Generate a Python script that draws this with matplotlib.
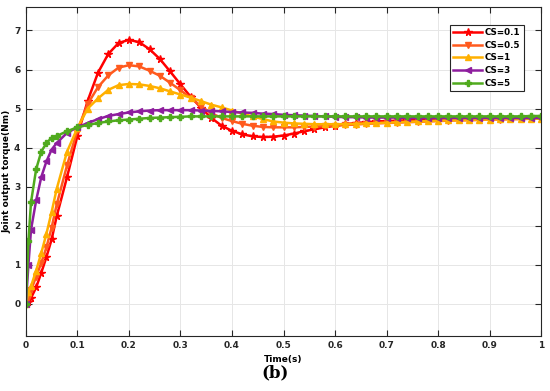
import matplotlib
matplotlib.use("Agg")
import matplotlib.pyplot as plt

time = [0, 0.005, 0.01, 0.02, 0.03, 0.04, 0.05, 0.06, 0.08, 0.10, 0.12, 0.14, 0.16, 0.18,
        0.20, 0.22, 0.24, 0.26, 0.28, 0.30, 0.32, 0.34, 0.36, 0.38, 0.40, 0.42, 0.44, 0.46,
        0.48, 0.50, 0.52, 0.54, 0.56, 0.58, 0.60, 0.62, 0.64, 0.66, 0.68, 0.70, 0.72, 0.74,
        0.76, 0.78, 0.80, 0.82, 0.84, 0.86, 0.88, 0.90, 0.92, 0.94, 0.96, 0.98, 1.00]

cs_01 = [0, 0.05, 0.15, 0.42, 0.80, 1.20, 1.65, 2.25, 3.25, 4.30, 5.20, 5.92, 6.40, 6.68,
         6.76, 6.70, 6.52, 6.27, 5.95, 5.62, 5.30, 5.02, 4.76, 4.56, 4.43, 4.34, 4.29, 4.27,
         4.28, 4.31, 4.36, 4.42, 4.47, 4.52, 4.56, 4.60, 4.63, 4.65, 4.67, 4.68, 4.69, 4.70,
         4.71, 4.72, 4.72, 4.73, 4.73, 4.74, 4.74, 4.74, 4.75, 4.75, 4.75, 4.75, 4.75]
cs_05 = [0, 0.15, 0.35, 0.70, 1.05, 1.45, 1.95, 2.55, 3.55, 4.45, 5.12, 5.55, 5.85, 6.05,
         6.11, 6.08, 5.97, 5.84, 5.66, 5.47, 5.27, 5.06, 4.88, 4.76, 4.68, 4.61, 4.56, 4.53,
         4.52, 4.52, 4.52, 4.53, 4.54, 4.55, 4.56, 4.58, 4.59, 4.61, 4.62, 4.63, 4.64, 4.65,
         4.66, 4.67, 4.68, 4.69, 4.70, 4.70, 4.71, 4.72, 4.72, 4.73, 4.73, 4.74, 4.74]
cs_1 = [0, 0.30, 0.45, 0.85, 1.30, 1.80, 2.35, 2.95, 3.90, 4.50, 5.00, 5.26, 5.48, 5.60,
        5.63, 5.62, 5.58, 5.52, 5.44, 5.36, 5.28, 5.19, 5.10, 5.03, 4.95, 4.87, 4.80, 4.73,
        4.67, 4.64, 4.62, 4.61, 4.60, 4.60, 4.60, 4.60, 4.61, 4.62, 4.63, 4.64, 4.65, 4.66,
        4.67, 4.68, 4.69, 4.70, 4.70, 4.71, 4.72, 4.72, 4.73, 4.73, 4.74, 4.74, 4.74]
cs_3 = [0, 1.00, 1.90, 2.65, 3.25, 3.65, 3.95, 4.12, 4.38, 4.52, 4.63, 4.73, 4.81, 4.86,
        4.90, 4.93, 4.95, 4.96, 4.96, 4.96, 4.96, 4.95, 4.94, 4.93, 4.91, 4.90, 4.89, 4.87,
        4.86, 4.84, 4.83, 4.82, 4.81, 4.80, 4.79, 4.78, 4.78, 4.77, 4.77, 4.77, 4.77, 4.76,
        4.76, 4.76, 4.76, 4.76, 4.76, 4.76, 4.76, 4.76, 4.76, 4.76, 4.76, 4.76, 4.76]
cs_5 = [0, 1.60, 2.60, 3.45, 3.90, 4.12, 4.25, 4.30, 4.42, 4.52, 4.58, 4.63, 4.67, 4.70,
        4.72, 4.74, 4.76, 4.77, 4.78, 4.79, 4.80, 4.80, 4.80, 4.80, 4.80, 4.80, 4.80, 4.80,
        4.80, 4.80, 4.80, 4.80, 4.80, 4.80, 4.80, 4.80, 4.80, 4.80, 4.80, 4.80, 4.80, 4.80,
        4.80, 4.80, 4.80, 4.80, 4.80, 4.80, 4.80, 4.80, 4.80, 4.80, 4.80, 4.81, 4.81]

labels = ["CS=0.1", "CS=0.5", "CS=1", "CS=3", "CS=5"]
series = [cs_01, cs_05, cs_1, cs_3, cs_5]
colors = ["#FF0000", "#FF5A1E", "#FFB000", "#8E1E9E", "#50AA1E"]
markers = ["*", "v", "^", "<", "P"]
msizes = [5.5, 4, 4, 4, 4.5]

fig = plt.figure(figsize=(5.5, 3.91), dpi=100)
ax = fig.add_axes([0.047, 0.141, 0.937, 0.841])

for y, lab, c, m, ms in zip(series, labels, colors, markers, msizes):
    ax.plot(time, y, color=c, lw=1.8, marker=m, ms=ms, label=lab)

ax.set_xlim(0, 1)
ax.set_ylim(-0.82, 7.6)
ax.set_xticks([0, 0.1, 0.2, 0.3, 0.4, 0.5, 0.6, 0.7, 0.8, 0.9, 1])
ax.set_xticklabels(["0", "0.1", "0.2", "0.3", "0.4", "0.5", "0.6", "0.7", "0.8", "0.9", "1"])
ax.set_yticks(range(0, 8))
ax.grid(True, color="#e6e6e6", lw=0.7)
ax.set_axisbelow(True)
ax.tick_params(direction="in", top=True, right=True, length=4, width=0.8,
               labelsize=6.5, colors="#262626", pad=4)
for lbl in ax.get_xticklabels() + ax.get_yticklabels():
    lbl.set_fontweight("bold")
for s in ax.spines.values():
    s.set_color("#262626")
    s.set_linewidth(0.8)

ax.set_xlabel("Time(s)", fontsize=6.5, fontweight="bold", labelpad=3)
ax.set_ylabel("Joint output torque(Nm)", fontsize=6.5, fontweight="bold", labelpad=2)

leg = ax.legend(loc="upper right", bbox_to_anchor=(0.975, 0.96), fontsize=6.3,
                fancybox=False, edgecolor="#262626", framealpha=1,
                handlelength=3.3, borderpad=0.4, labelspacing=0.42, handletextpad=0.3)
leg.get_frame().set_linewidth(0.8)
for t in leg.get_texts():
    t.set_fontweight("bold")

fig.text(0.5, 0.025, "(b)", ha="center", va="bottom", fontsize=12,
         fontweight="bold", family="DejaVu Serif")

fig.savefig("out.png", dpi=100)
